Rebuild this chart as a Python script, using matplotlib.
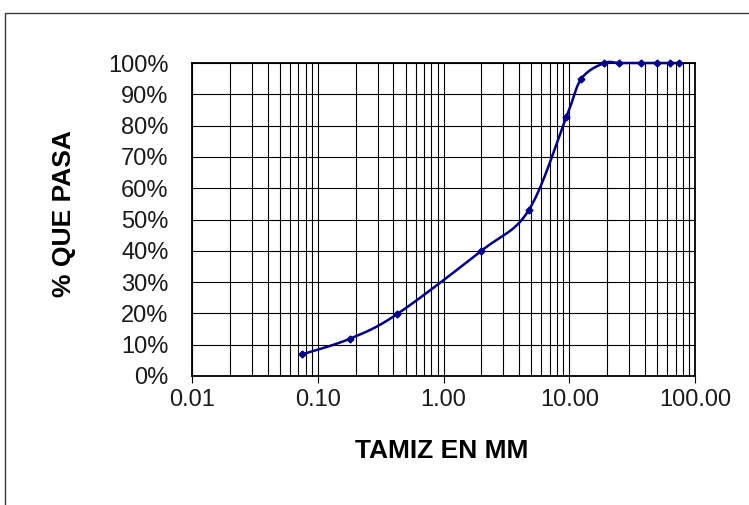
import matplotlib.pyplot as plt
import numpy as np
from matplotlib.patches import Rectangle
from matplotlib.ticker import FixedLocator, FuncFormatter

plt.rcParams['font.family'] = ['Liberation Sans', 'DejaVu Sans']

# Curva granulométrica: abertura del tamiz (mm) y porcentaje que pasa
tamiz_mm = np.array([75, 63, 50, 37.5, 25, 19, 12.5, 9.5, 4.75, 2.0, 0.425, 0.18, 0.075])
pasa = np.array([100, 100, 100, 100, 100, 100, 95.0, 82.8, 52.9, 40.0, 19.7, 11.9, 6.9])

x_ticks = [0.01, 0.1, 1, 10, 100]
y_ticks = np.arange(0, 101, 10)


def suavizar(x, y, n=30):
    # curva suavizada tipo Excel (Bezier con puntos de control a 1/6)
    u = np.log10(x)
    p = np.column_stack((u, y))
    orden = np.argsort(u)
    p = p[orden]
    pts = []
    for i in range(len(p) - 1):
        p0 = p[i - 1] if i > 0 else p[i]
        p1 = p[i]
        p2 = p[i + 1]
        p3 = p[i + 2] if i + 2 < len(p) else p[i + 1]
        b1 = p1 + (p2 - p0) / 6
        b2 = p2 - (p3 - p1) / 6
        t = np.linspace(0, 1, n)[:, None]
        seg = ((1 - t) ** 3 * p1 + 3 * (1 - t) ** 2 * t * b1
               + 3 * (1 - t) * t ** 2 * b2 + t ** 3 * p2)
        pts.append(seg if i == 0 else seg[1:])
    pts = np.vstack(pts)
    return 10 ** pts[:, 0], pts[:, 1]


fig = plt.figure(figsize=(7.49, 5.05), dpi=100)
ax = fig.add_axes([192 / 749, 1 - 376 / 505, 503 / 749, 313 / 505])

# marco exterior del gráfico
fig.patches.append(Rectangle((5 / 749, -0.1), 1.2, 1 - 13 / 505 + 0.1,
                             transform=fig.transFigure, fill=False,
                             edgecolor='#3a3a3a', lw=1.0))

ax.set_xscale('log')
ax.set_xlim(0.01, 100)
ax.set_ylim(0, 100)

ax.xaxis.set_major_locator(FixedLocator(x_ticks))
ax.xaxis.set_major_formatter(FuncFormatter(lambda v, _: f'{v:.2f}'))
ax.yaxis.set_major_locator(FixedLocator(y_ticks))
ax.yaxis.set_major_formatter(FuncFormatter(lambda v, _: f'{v:.0f}%'))

ax.grid(True, which='both', axis='x', color='black', lw=0.8)
ax.grid(True, which='major', axis='y', color='black', lw=0.8)
ax.tick_params(axis='x', which='major', length=5, width=0.8, pad=4,
               labelsize=17, labelcolor='#1a1a1a')
ax.tick_params(axis='x', which='minor', length=0)
ax.tick_params(axis='y', length=0, pad=17, labelsize=17, labelcolor='#1a1a1a')
for s in ax.spines.values():
    s.set_linewidth(1.3)
    s.set_color('black')

xs, ys = suavizar(tamiz_mm, pasa)
ax.plot(xs, ys, color='#00008B', lw=1.8, clip_on=False, zorder=3)
ax.plot(tamiz_mm, pasa, 'D', color='#00008B', ms=3.5, clip_on=False, zorder=4)

fig.text(442 / 749, 1 - 451 / 505, 'TAMIZ EN MM', ha='center', va='center',
         fontsize=19, fontweight='bold')
fig.text(64 / 749, 1 - 214 / 505, '% QUE PASA', ha='center', va='center',
         rotation=90, fontsize=19, fontweight='bold')

fig.savefig('out.png', dpi=100)
